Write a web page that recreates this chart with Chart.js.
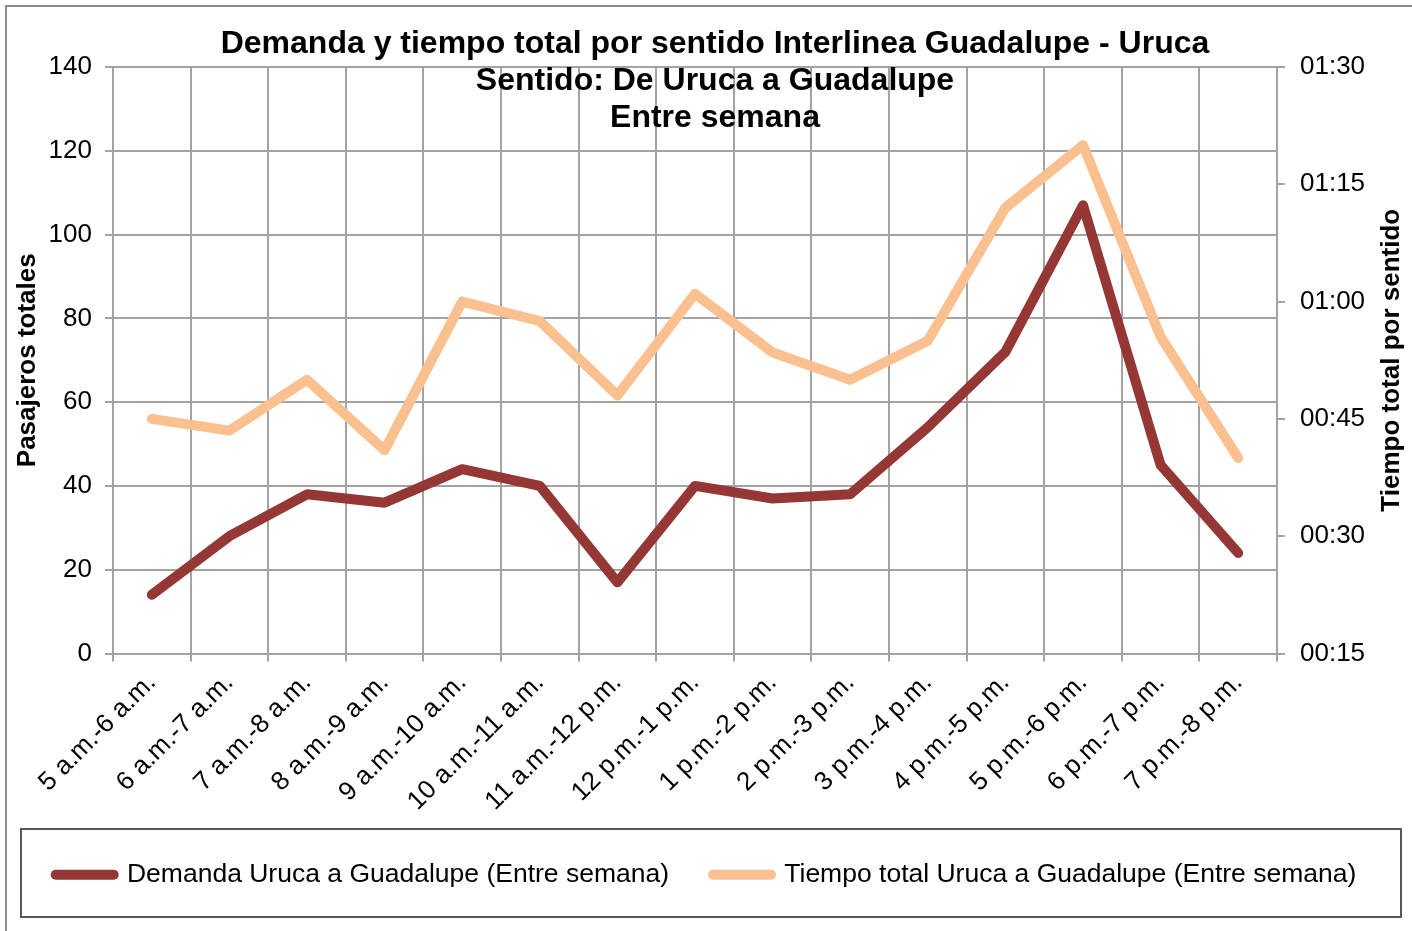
<!DOCTYPE html>
<html lang="es">
<head>
<meta charset="UTF-8">
<title>Demanda y tiempo total por sentido Interlinea Guadalupe - Uruca</title>
<script src="https://cdn.jsdelivr.net/npm/chart.js@4"></script>
<style>
  html, body { margin: 0; padding: 0; background: #fff; }
  #wrap { width: 1412px; height: 931px; }
</style>
</head>
<body>
<div id="wrap"><canvas id="chart" width="1412" height="931"></canvas></div>
<script>
// datos
const categories = ['5 a.m.-6 a.m.', '6 a.m.-7 a.m.', '7 a.m.-8 a.m.', '8 a.m.-9 a.m.', '9 a.m.-10 a.m.',
  '10 a.m.-11 a.m.', '11 a.m.-12 p.m.', '12 p.m.-1 p.m.', '1 p.m.-2 p.m.', '2 p.m.-3 p.m.',
  '3 p.m.-4 p.m.', '4 p.m.-5 p.m.', '5 p.m.-6 p.m.', '6 p.m.-7 p.m.', '7 p.m.-8 p.m.'];
const demanda = [14, 28, 38, 36, 44, 40, 17, 40, 37, 38, 54, 72, 107, 45, 24];
// tiempo total en minutos
const tiempoMin = [45, 43.5, 50, 41, 60, 57.5, 48, 61, 53.5, 50, 55, 72, 80, 55.5, 40];
const timeTickLabels = ['00:15', '00:30', '00:45', '01:00', '01:15', '01:30'];
const titleLines = ['Demanda y tiempo total por sentido Interlinea Guadalupe - Uruca',
  'Sentido: De Uruca a Guadalupe', 'Entre semana'];
const leftTitle = 'Pasajeros totales';
const rightTitle = 'Tiempo total por sentido';

const FONT = '"Liberation Sans", Arial, sans-serif';
const gridColor = '#a3a3a3';

// marco, titulo, titulo del eje derecho y caja de la leyenda
const decor = {
  id: 'decor',
  beforeDraw(chart) {
    const ctx = chart.ctx;
    ctx.save();
    ctx.fillStyle = '#fff';
    ctx.fillRect(0, 0, chart.width, chart.height);
    ctx.fillStyle = '#8c8c8c';
    ctx.fillRect(5, 5, 2, chart.height - 5);
    ctx.fillRect(5, 5, chart.width - 5, 2);
    ctx.restore();
  },
  afterDraw(chart) {
    const ctx = chart.ctx;
    const area = chart.chartArea;
    ctx.save();
    ctx.fillStyle = '#000';
    ctx.textAlign = 'center';
    ctx.textBaseline = 'middle';
    ctx.font = 'bold 32px ' + FONT;
    titleLines.forEach((t, i) => ctx.fillText(t, 715, 44 + i * 37));
    ctx.font = 'bold 26px ' + FONT;
    ctx.translate(1392, (area.top + area.bottom) / 2);
    ctx.rotate(-Math.PI / 2);
    ctx.fillText(rightTitle, 0, 0);
    ctx.restore();

    ctx.save();
    ctx.strokeStyle = '#595959';
    ctx.lineWidth = 2;
    ctx.strokeRect(21, 829, 1380, 88);
    ctx.restore();
  }
};

new Chart(document.getElementById('chart'), {
  type: 'line',
  data: {
    labels: categories,
    datasets: [{
      label: 'Demanda Uruca a Guadalupe (Entre semana)',
      data: demanda,
      yAxisID: 'y',
      borderColor: '#953735',
      backgroundColor: '#953735',
      borderWidth: 10,
      borderCapStyle: 'round',
      borderJoinStyle: 'round',
      pointRadius: 0,
      pointHoverRadius: 0,
      tension: 0
    }, {
      label: 'Tiempo total Uruca a Guadalupe (Entre semana)',
      data: tiempoMin,
      yAxisID: 'y1',
      borderColor: '#FAC090',
      backgroundColor: '#FAC090',
      borderWidth: 10,
      borderCapStyle: 'round',
      borderJoinStyle: 'round',
      pointRadius: 0,
      pointHoverRadius: 0,
      tension: 0
    }]
  },
  options: {
    responsive: false,
    animation: false,
    layout: { padding: { top: 67, bottom: 33, left: 0, right: 0 } },
    plugins: {
      title: { display: false },
      tooltip: { enabled: false },
      legend: {
        position: 'bottom',
        labels: {
          usePointStyle: true,
          pointStyleWidth: 58,
          padding: 44,
          color: '#000',
          font: { family: FONT, size: 26.5 },
          generateLabels(chart) {
            return chart.data.datasets.map((ds, i) => ({
              text: ds.label,
              strokeStyle: ds.borderColor,
              fillStyle: ds.borderColor,
              lineWidth: 10,
              lineCap: 'round',
              pointStyle: 'line',
              fontColor: '#000',
              hidden: false,
              datasetIndex: i
            }));
          }
        }
      }
    },
    scales: {
      x: {
        offset: true,
        grid: { color: gridColor, lineWidth: 2, offset: true, tickLength: 8 },
        border: { color: gridColor, width: 2 },
        ticks: {
          autoSkip: false, minRotation: 45, maxRotation: 45, padding: 6,
          color: '#000', font: { family: FONT, size: 26 }
        },
        afterFit(s) { s.height = 164; }
      },
      y: {
        position: 'left',
        min: 0, max: 140,
        grid: { color: gridColor, lineWidth: 2, tickLength: 8 },
        border: { color: gridColor, width: 2 },
        ticks: { stepSize: 20, padding: 13, color: '#000', font: { family: FONT, size: 26 } },
        title: {
          display: true, text: leftTitle, color: '#000',
          font: { family: FONT, size: 26, weight: 'bold' },
          padding: { top: 12, bottom: 0 }
        },
        afterFit(s) { s.width = 113; }
      },
      y1: {
        position: 'right',
        min: 15, max: 90,
        grid: { drawOnChartArea: false, color: gridColor, lineWidth: 2, tickLength: 8 },
        border: { color: gridColor, width: 2 },
        ticks: {
          stepSize: 15, padding: 15, color: '#000', font: { family: FONT, size: 26 },
          callback: (v, i) => timeTickLabels[i]
        },
        afterFit(s) { s.width = 135; }
      }
    }
  },
  plugins: [decor]
});
</script>
</body>
</html>
